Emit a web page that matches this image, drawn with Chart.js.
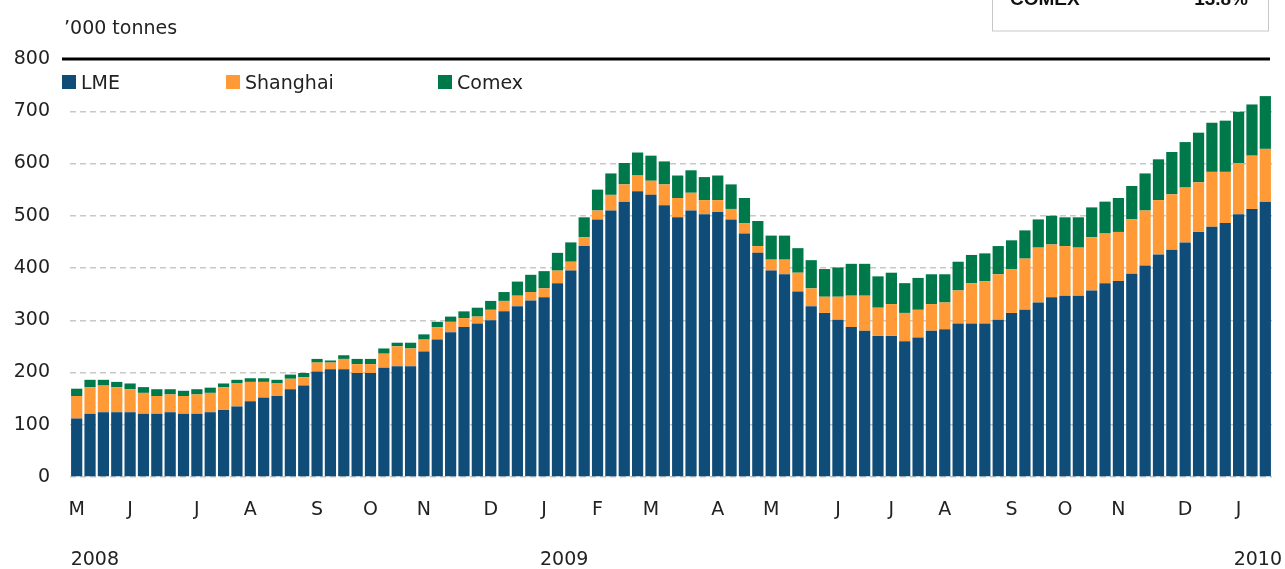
<!DOCTYPE html>
<html>
<head>
<meta charset="utf-8">
<script src="https://cdn.jsdelivr.net/npm/chart.js@4/dist/chart.umd.min.js"></script>
<style>
  html, body { margin: 0; padding: 0; background: #fff; }
  #wrap { position: relative; width: 1285px; height: 569px; }
</style>
</head>
<body>
<div id="wrap"><canvas id="chart" width="1285" height="569"></canvas></div>
<script>
const LME_COLOR = '#0F4D78';
const SHANGHAI_COLOR = '#FF9A36';
const COMEX_COLOR = '#00794A';
const GRID = '#c8c8c8';
const TEXT = '#222';
const FONT = "'DejaVu Sans', sans-serif";

// weekly stocks, May 2008 - Jan 2010 ('000 tonnes)
const weekLabels = [
  'M','','','','J','','','','','J','','','','A','','','','','S','','','','O','','','',
  'N','','','','','D','','','','J','','','','F','','','','M','','','','','A','','','',
  'M','','','','','J','','','','J','','','','A','','','','','S','','','','O','','','',
  'N','','','','','D','','','','J','',''
];
const lme = [
  112,121,124,124,124,121,121,124,121,121,124,128,135,145,152,155,168,175,
  202,206,206,199,199,209,212,212,240,263,277,287,294,300,317,327,338,344,
  371,395,442,493,510,527,547,540,520,497,510,503,507,493,466,429,395,388,
  355,327,314,301,287,280,270,270,260,267,280,283,294,294,294,301,314,320,
  334,344,347,347,357,371,375,389,405,426,435,449,469,479,486,503,513,527
];
const shanghai = [
  43,51,51,48,44,40,34,34,34,37,37,44,44,37,30,24,20,16,
  17,13,20,17,17,27,38,34,23,24,20,17,13,20,20,20,16,17,
  24,17,17,17,30,33,30,27,40,37,34,27,23,20,20,13,21,28,
  36,34,31,44,60,67,54,61,54,53,51,51,63,77,81,87,84,98,
  105,101,95,92,102,95,94,104,105,104,106,105,95,105,98,98,102,101
];
const comex = [
  14,14,11,10,11,11,13,10,10,10,10,7,7,7,7,7,8,8,
  7,4,7,10,10,10,7,11,10,10,10,13,17,17,17,27,33,33,
  34,37,38,40,41,41,44,48,44,43,43,44,47,47,48,48,46,46,
  47,54,53,56,61,61,60,60,57,61,57,54,55,54,53,54,55,54,
  54,55,55,58,57,61,65,64,71,78,81,87,95,94,98,98,98,101
];
const seriesNames = ['LME', 'Shanghai', 'Comex'];
const yearLabels = ['2008', '2009', '2010'];

const overlay = {
  id: 'overlay',
  afterDraw(chart) {
    const { ctx, chartArea, scales: { x, y } } = chart;
    const top = y.getPixelForValue(800);
    ctx.save();

    // heavy rule on the 800 line
    ctx.strokeStyle = '#000';
    ctx.lineWidth = 3;
    ctx.beginPath();
    ctx.moveTo(62, top);
    ctx.lineTo(chartArea.right - 2, top);
    ctx.stroke();

    ctx.fillStyle = TEXT;
    ctx.font = `19px ${FONT}`;
    ctx.textBaseline = 'alphabetic';
    ctx.textAlign = 'left';
    ctx.fillText('\u2019000 tonnes', 64, top - 25);

    // legend inside plot
    const colors = [LME_COLOR, SHANGHAI_COLOR, COMEX_COLOR];
    const legX = [62, 226, 438];
    seriesNames.forEach((name, i) => {
      ctx.fillStyle = colors[i];
      ctx.fillRect(legX[i], top + 16, 14, 14);
      ctx.fillStyle = TEXT;
      ctx.fillText(name, legX[i] + 19, top + 30);
    });

    // year labels under month ticks
    const yy = chartArea.bottom + 88;
    ctx.textAlign = 'left';
    ctx.fillText(yearLabels[0], x.getPixelForValue(0) - 6, yy);
    ctx.textAlign = 'center';
    ctx.fillText(yearLabels[1], (x.getPixelForValue(36) + x.getPixelForValue(37)) / 2, yy);
    ctx.textAlign = 'right';
    ctx.fillText(yearLabels[2], chartArea.right + 10, yy);

    // clipped share box at the top right
    ctx.strokeStyle = '#c8c8c8';
    ctx.lineWidth = 1;
    ctx.strokeRect(992.5, -10, 276, 41);
    ctx.fillStyle = '#111';
    ctx.font = "bold 19px 'Liberation Sans', sans-serif";
    ctx.textAlign = 'left';
    ctx.fillText('COMEX', 1010, 5);
    ctx.textAlign = 'right';
    ctx.fillText('13.8%', 1248, 5);
    ctx.restore();
  }
};

new Chart(document.getElementById('chart'), {
  type: 'bar',
  data: {
    labels: weekLabels,
    datasets: [
      { label: seriesNames[0], data: lme, backgroundColor: LME_COLOR },
      { label: seriesNames[1], data: shanghai, backgroundColor: SHANGHAI_COLOR },
      { label: seriesNames[2], data: comex, backgroundColor: COMEX_COLOR }
    ]
  },
  options: {
    responsive: false,
    animation: false,
    layout: { padding: { left: 12, right: 13, top: 59, bottom: 47 } },
    datasets: { bar: { barPercentage: 0.84, categoryPercentage: 1, borderWidth: 0 } },
    plugins: { legend: { display: false }, tooltip: { enabled: false } },
    scales: {
      x: {
        stacked: true,
        grid: { display: false, drawTicks: false },
        border: { display: false },
        afterFit: s => { s.height = 45; s.paddingLeft = 0; s.paddingRight = 0; },
        ticks: {
          autoSkip: false, maxRotation: 0, padding: 22,
          color: TEXT, font: { family: FONT, size: 19 }
        }
      },
      y: {
        stacked: true,
        min: 0, max: 800,
        afterFit: s => { s.width = 58; },
        grid: {
          drawTicks: false,
          lineWidth: 1.5,
          color: c => c.tick && c.tick.value === 800 ? 'rgba(0,0,0,0)' : GRID
        },
        border: { display: false, dash: [6, 4] },
        ticks: {
          stepSize: 100, padding: 20,
          color: TEXT, font: { family: FONT, size: 19 }
        }
      }
    }
  },
  plugins: [overlay]
});
</script>
</body>
</html>
